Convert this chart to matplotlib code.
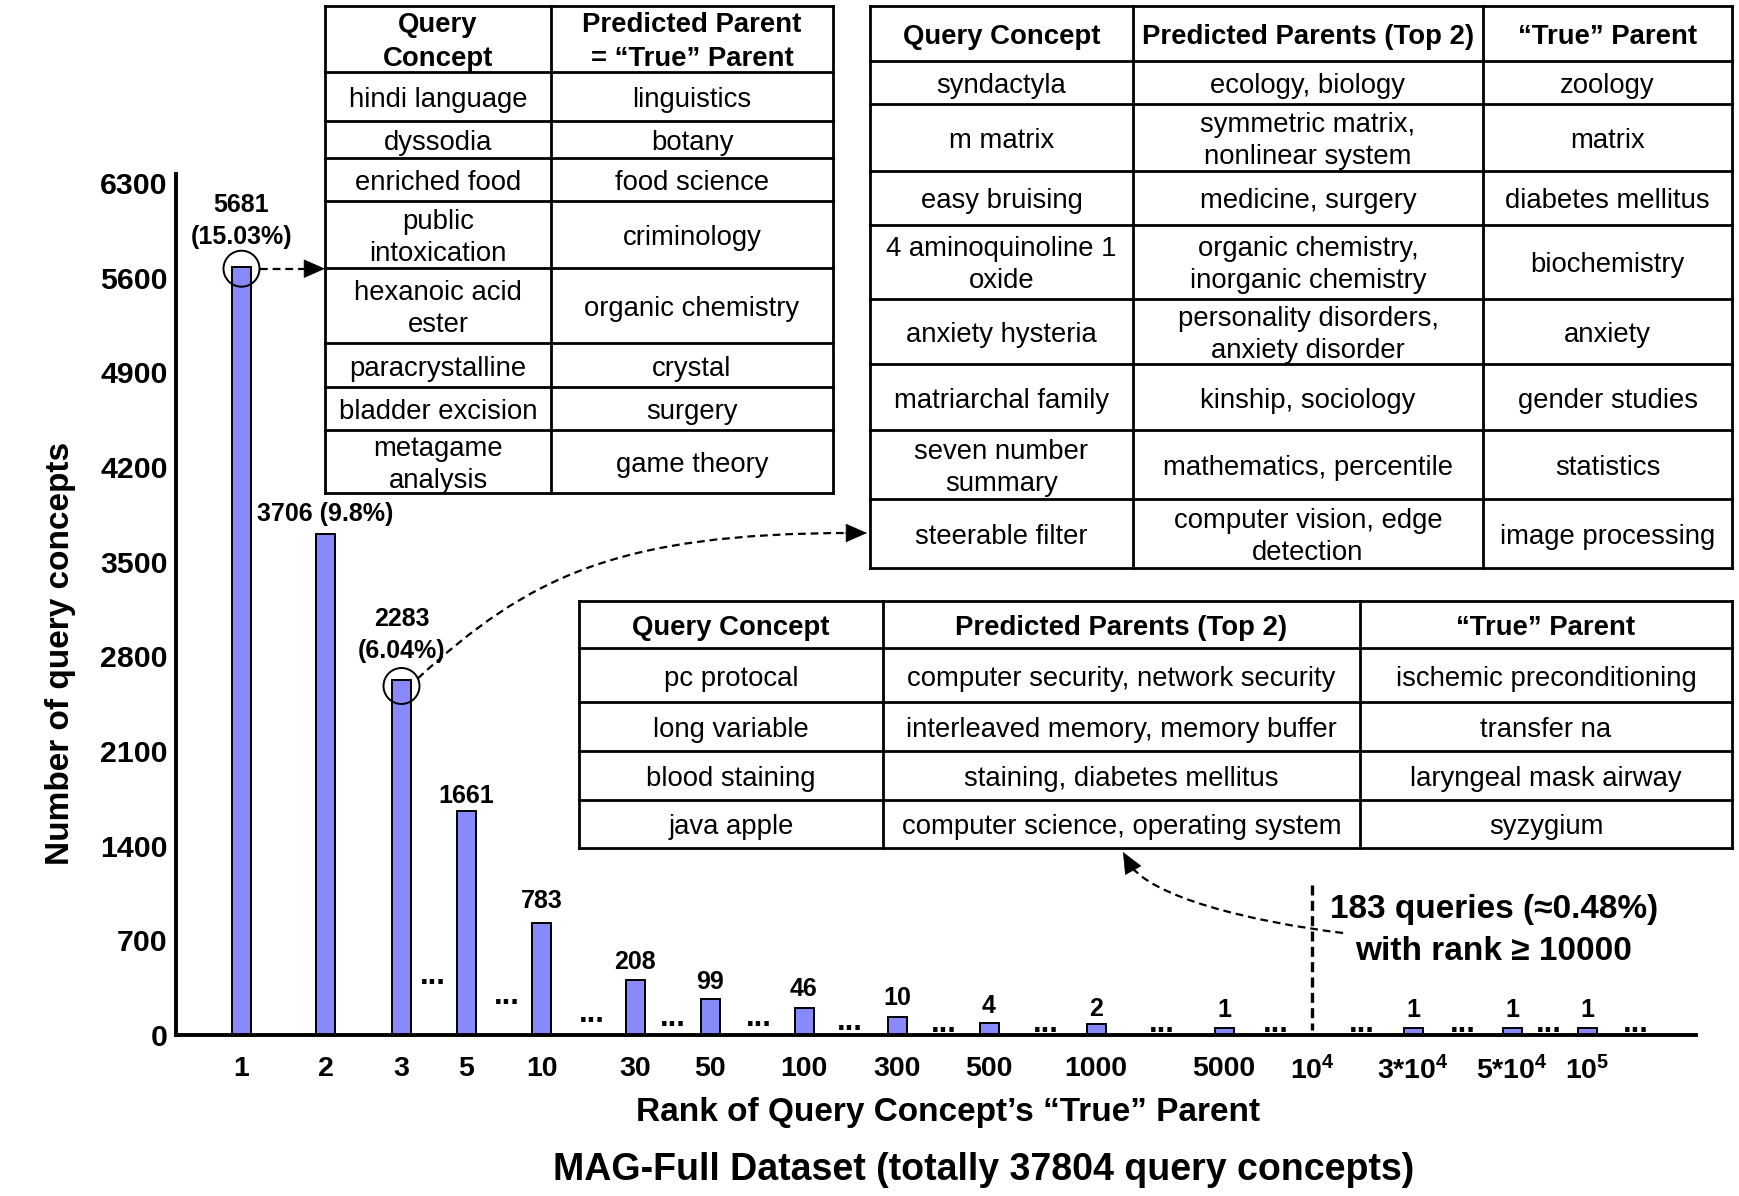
import matplotlib
matplotlib.use('Agg')
import matplotlib.pyplot as plt
from matplotlib.patches import Circle, FancyArrowPatch, PathPatch, Rectangle
from matplotlib.path import Path
import numpy as np

plt.rcParams['font.family'] = ['Liberation Sans', 'DejaVu Sans']
plt.rcParams['mathtext.fontset'] = 'custom'
plt.rcParams['mathtext.rm'] = 'Liberation Sans:bold'
plt.rcParams['mathtext.bf'] = 'Liberation Sans:bold'
plt.rcParams['mathtext.default'] = 'bf'

# ---------------- data ----------------
tick_labels = ['1', '2', '3', '5', '10', '30', '50', '100', '300', '500',
               '1000', '5000', '10$^{4}$', '3*10$^{4}$', '5*10$^{4}$', '10$^{5}$']
bar_ranks = ['1', '2', '3', '5', '10', '30', '50', '100', '300', '500',
             '1000', '5000', '3*10$^{4}$', '5*10$^{4}$', '10$^{5}$']
bar_heights = [5681, 3706, 2625, 1656, 828, 407, 266, 200, 133, 89, 81, 52, 52, 52, 52]
bar_labels = ['5681\n(15.03%)', '3706 (9.8%)', '2283\n(6.04%)', '1661', '783', '208',
              '99', '46', '10', '4', '2', '1', '1', '1', '1']
y_ticks = [0, 700, 1400, 2100, 2800, 3500, 4200, 4900, 5600, 6300]

t1_header = ['Query\nConcept', 'Predicted Parent\n= \u201cTrue\u201d Parent']
t1_query = ['hindi language', 'dyssodia', 'enriched food', 'public\nintoxication',
            'hexanoic acid\nester', 'paracrystalline', 'bladder excision', 'metagame\nanalysis']
t1_parent = ['linguistics', 'botany', 'food science', 'criminology',
             'organic chemistry', 'crystal', 'surgery', 'game theory']

t2_header = ['Query Concept', 'Predicted Parents (Top 2)', '\u201cTrue\u201d Parent']
t2_query = ['syndactyla', 'm matrix', 'easy bruising', '4 aminoquinoline 1\noxide',
            'anxiety hysteria', 'matriarchal family', 'seven number\nsummary', 'steerable filter']
t2_pred = ['ecology, biology', 'symmetric matrix,\nnonlinear system', 'medicine, surgery',
           'organic chemistry,\ninorganic chemistry', 'personality disorders,\nanxiety disorder',
           'kinship, sociology', 'mathematics, percentile', 'computer vision, edge\ndetection']
t2_true = ['zoology', 'matrix', 'diabetes mellitus', 'biochemistry', 'anxiety',
           'gender studies', 'statistics', 'image processing']

t3_header = ['Query Concept', 'Predicted Parents (Top 2)', '\u201cTrue\u201d Parent']
t3_query = ['pc protocal', 'long variable', 'blood staining', 'java apple']
t3_pred = ['computer security, network security', 'interleaved memory, memory buffer',
           'staining, diabetes mellitus', 'computer science, operating system']
t3_true = ['ischemic preconditioning', 'transfer na', 'laryngeal mask airway', 'syzygium']

tail_note = '183 queries (\u22480.48%)\nwith rank \u2265 10000'
x_title = 'Rank of Query Concept\u2019s \u201cTrue\u201d Parent'
y_title = 'Number of query concepts'
caption = 'MAG-Full Dataset (totally 37804 query concepts)'

# ---------------- layout (pixels) ----------------
W, H = 1739, 1196
AX_L, AX_R, AX_B, AX_T = 176, 1696, 1035, 174
Y6300_PX = 183
ppu = (AX_B - Y6300_PX) / 6300.0
ymax = (AX_B - AX_T) / ppu

tick_x = [241.5, 325.5, 401.5, 466.5, 541.5, 635, 710, 804, 897.5, 989,
          1096, 1224, 1312, 1413, 1512, 1587]
bar_x = [tick_x[tick_labels.index(r)] for r in bar_ranks]
label_offset_pt = [33, 14.5, 32.5, 10.5, 16, 13, 12.5, 13.5, 13.5, 12, 10.5, 13, 13, 13, 13]

gap_x = [433, 507, 592, 673, 759, 850, 944, 1046, 1162, 1276, 1362, 1463, 1549, 1636]
gap_center_px = [982, 1001, 1020, 1023, 1023, 1028, 1030, 1030, 1030, 1030, 1030, 1030, 1030, 1030]

t1_cols = [325, 551, 833]
t1_rows = [5.5, 72, 121, 158, 201, 268, 343, 387, 430, 493]
t2_cols = [870, 1133, 1483, 1732]
t2_rows = [5.5, 61, 104, 171, 225, 299, 364, 430, 499, 568]
t3_cols = [579, 883, 1360, 1732]
t3_rows = [601, 648, 702, 751, 800, 848]

BAR_COLOR = '#8889FB'
FS_CELL = 19.8

fig = plt.figure(figsize=(W / 100, H / 100), dpi=100)
fig.patch.set_facecolor('white')
ax = fig.add_axes([AX_L / W, 1 - AX_B / H, (AX_R - AX_L) / W, (AX_B - AX_T) / H])
ax.set_xlim(AX_L, AX_R)
ax.set_ylim(0, ymax)

ax.bar(bar_x, bar_heights, width=19, color=BAR_COLOR, edgecolor='black', linewidth=1.4, zorder=2)

for s in ['top', 'right']:
    ax.spines[s].set_visible(False)
for s in ['left', 'bottom']:
    ax.spines[s].set_linewidth(2.8)
    ax.spines[s].set_zorder(3)

ax.set_yticks(y_ticks)
ax.set_yticklabels([str(v) for v in y_ticks], fontsize=21.8, fontweight='bold')
ax.set_xticks(tick_x)
ax.set_xticklabels(tick_labels, fontsize=20.5, fontweight='bold')
ax.tick_params(axis='y', length=0, pad=6)
ax.tick_params(axis='x', length=0, pad=15)

for x, h, lab, off in zip(bar_x, bar_heights, bar_labels, label_offset_pt):
    ax.annotate(lab, (x, h), xytext=(0, off), textcoords='offset points',
                ha='center', va='center', fontsize=18, fontweight='bold',
                linespacing=1.42, zorder=4)

for gx, gy in zip(gap_x, gap_center_px):
    ax.text(gx, (AX_B - (gy + 2.5)) / ppu, '...', ha='center', va='baseline',
            fontsize=22, fontweight='bold', zorder=4)

ax.set_xlabel(x_title, fontsize=24, fontweight='bold', va='center')
ax.xaxis.set_label_coords((948 - AX_L) / (AX_R - AX_L), (AX_B - 1112.5) / (AX_B - AX_T))
ax.set_ylabel(y_title, fontsize=24, fontweight='bold', va='center', ha='center')
ax.yaxis.label.set_rotation_mode('anchor')
ax.yaxis.set_label_coords((61 - AX_L) / (AX_R - AX_L), (AX_B - 653) / (AX_B - AX_T))

# ---------------- overlay (pixel coordinates) ----------------
ov = fig.add_axes([0, 0, 1, 1])
ov.set_xlim(0, W)
ov.set_ylim(H, 0)
ov.axis('off')
ov.patch.set_alpha(0)
ov.set_zorder(5)


def to_px(x, y):
    dx, dy = ax.transData.transform((x, y))
    return dx, H - dy


def draw_table(cols, rows, header, columns, header_ls):
    ov.add_patch(Rectangle((cols[0], rows[0]), cols[-1] - cols[0], rows[-1] - rows[0],
                           facecolor='white', edgecolor='none', zorder=1))
    for y in rows:
        ov.plot([cols[0], cols[-1]], [y, y], color='black', lw=2, solid_capstyle='projecting', zorder=3)
    for x in cols:
        ov.plot([x, x], [rows[0], rows[-1]], color='black', lw=2, solid_capstyle='projecting', zorder=3)
    body = list(zip(*columns))
    for i, row in enumerate([header] + body):
        for j, txt in enumerate(row):
            ov.text((cols[j] + cols[j + 1]) / 2, (rows[i] + rows[i + 1]) / 2 + 3.5, txt,
                    ha='center', va='center', multialignment='center', fontsize=FS_CELL,
                    fontweight='bold' if i == 0 else 'normal',
                    linespacing=header_ls if i == 0 else 1.3, zorder=4)


draw_table(t1_cols, t1_rows, t1_header, [t1_query, t1_parent], 1.4)
draw_table(t2_cols, t2_rows, t2_header, [t2_query, t2_pred, t2_true], 1.3)
draw_table(t3_cols, t3_rows, t3_header, [t3_query, t3_pred, t3_true], 1.3)

DASH = (0, (3.5, 2.2))
R = 18


def head(base, tip):
    ov.add_patch(FancyArrowPatch(base, tip, arrowstyle='-|>,head_length=0.8,head_width=0.35',
                                 mutation_scale=18, color='black', lw=0.5,
                                 shrinkA=0, shrinkB=0, zorder=6))


# circle + arrow to table 1
c1x, c1y = to_px(bar_x[0], bar_heights[0])
c1y += 2
ov.add_patch(Circle((c1x, c1y), R, fill=False, edgecolor='black', lw=1.4, zorder=6))
ov.plot([c1x + R, t1_cols[0] - 15], [c1y, c1y], color='black', lw=1.6, linestyle=DASH, zorder=6)
head((t1_cols[0] - 22, c1y), (t1_cols[0], c1y))

# circle + curved arrow to table 2
c3x, c3y = to_px(bar_x[2], bar_heights[2])
c3y += 6
ov.add_patch(Circle((c3x, c3y), R, fill=False, edgecolor='black', lw=1.4, zorder=6))
sx, sy = c3x + R * np.cos(np.radians(25)), c3y - R * np.sin(np.radians(25))
tip2 = (t2_cols[0] - 3, 533)
p2 = Path([(sx, sy), (528, 577), (617, tip2[1]), (tip2[0] - 15, tip2[1])],
          [Path.MOVETO, Path.CURVE4, Path.CURVE4, Path.CURVE4])
ov.add_patch(PathPatch(p2, fill=False, edgecolor='black', lw=1.6, linestyle=DASH, zorder=6))
head((tip2[0] - 22, tip2[1]), tip2)

# vertical dashed line at rank 10^4
vx, _ = to_px(tick_x[12], 0)
ov.plot([vx, vx], [885, 1030], color='black', lw=2.4, linestyle=(0, (3, 1.6)), zorder=6)

# curved arrow to table 3
tip3 = (1123, t3_rows[-1] + 4)
d = np.array([-25.0, -45.0]); d /= np.linalg.norm(d)
end3 = (tip3[0] - 12 * d[0], tip3[1] - 12 * d[1])
p3 = Path([(1343, 933), (1253, 922), (1148, 897), end3],
          [Path.MOVETO, Path.CURVE4, Path.CURVE4, Path.CURVE4])
ov.add_patch(PathPatch(p3, fill=False, edgecolor='black', lw=1.6, linestyle=DASH, zorder=6))
head((tip3[0] - 22 * d[0], tip3[1] - 22 * d[1]), tip3)

ov.text(1494, 930.5, tail_note, ha='center', va='center', multialignment='center',
        fontsize=24, fontweight='bold', linespacing=1.45, zorder=6)

ov.text(984, 1170.5, caption, ha='center', va='center', fontsize=27, fontweight='bold')

fig.savefig('out.png', dpi=100, facecolor='white')
